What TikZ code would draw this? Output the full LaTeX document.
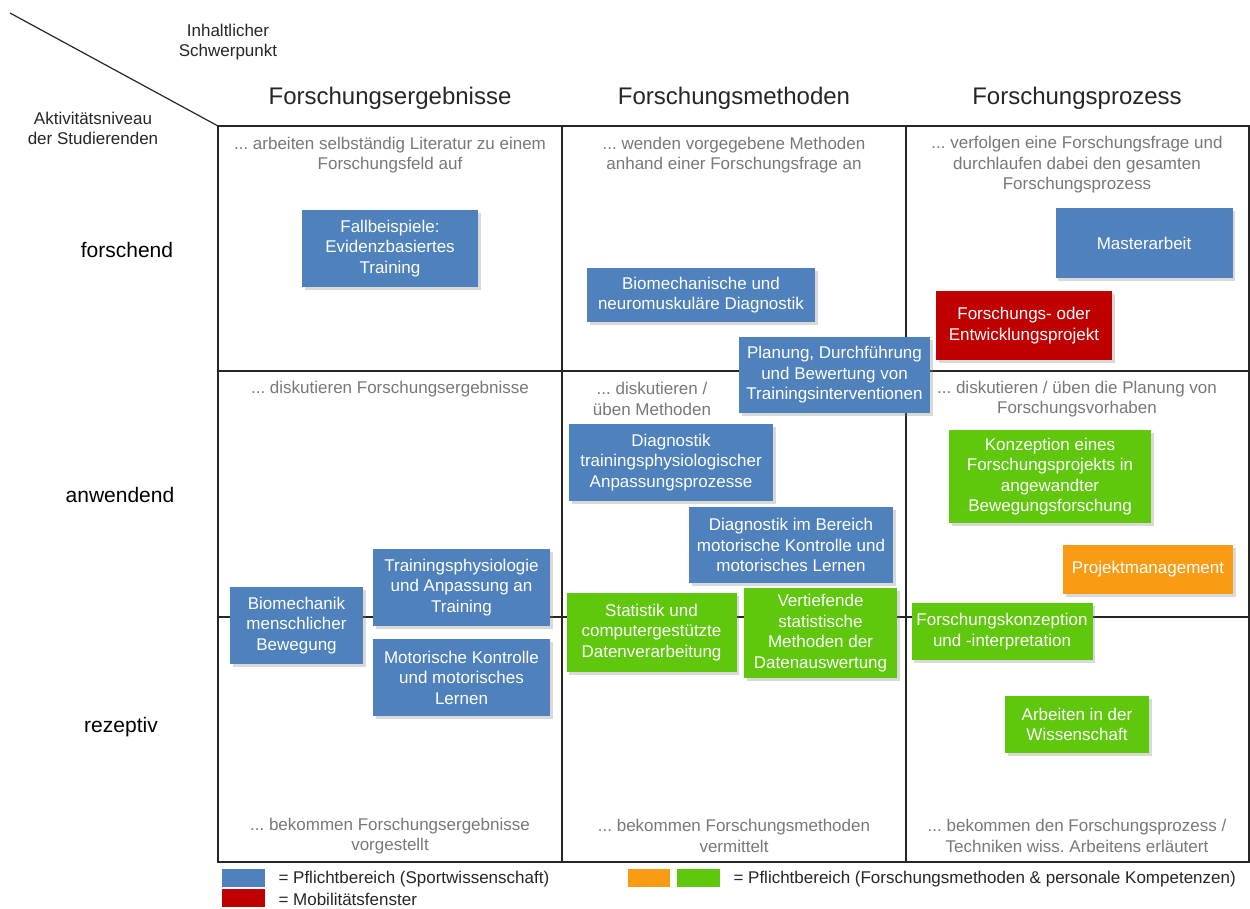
\documentclass[tikz,border=0pt]{standalone}
\usepackage{fontspec}
\setmainfont{Liberation Sans}
\usetikzlibrary{shadows}
\frenchspacing

\definecolor{blau}{RGB}{79,129,189}
\definecolor{rot}{RGB}{192,0,0}
\definecolor{gruen}{RGB}{95,200,12}
\definecolor{orange}{RGB}{250,155,20}
\definecolor{grau}{RGB}{120,120,120}

\begin{document}
\begin{tikzpicture}[x=1pt, y=-1pt,
    box/.style={rectangle, text=white, align=center, inner sep=0pt, font=\fontsize{17}{20.5}\selectfont, drop shadow={shadow xshift=2.5pt, shadow yshift=-2.5pt, opacity=.3}},
    sport/.style={box, fill=blau}, mobil/.style={box, fill=rot},
    methode/.style={box, fill=gruen}, kompetenz/.style={box, fill=orange},
    wh/.style 2 args={minimum width=#1, minimum height=#2},
    stufe/.style={align=center, text=grau, font=\fontsize{17}{20.5}\selectfont},
    kopf/.style={font=\fontsize{24}{28}\selectfont, text=black!85},
    niveau/.style={font=\fontsize{21}{25}\selectfont},
    klein/.style={align=center, font=\fontsize{17}{20}\selectfont, text=black!85},
    raster/.style={line width=1.5pt, black!85}]
    \useasboundingbox (0,0) rectangle (1250,908);
    % Raster
    \coordinate (diag) at (10,13);
    \coordinate (ecke) at (218,126);
    \draw[line width=1.2pt, black!85] (diag) -- (ecke);
    \draw[raster] (ecke) rectangle (1249,862);
    \draw[raster] (562,126) -- (562,862) (906,126) -- (906,862);
    \draw[raster] (218,371) -- (1249,371) (218,617) -- (1249,617);
    % Achsen
    \node[klein] (schwerpunkt) at (228,42) {Inhaltlicher\\Schwerpunkt};
    \node[klein] (aktiv) at (93,128) {Aktivitätsniveau\\der Studierenden};
    \node[kopf] (ergebnisse) at (390,98) {Forschungsergebnisse};
    \node[kopf] (methoden) at (734,98) {Forschungsmethoden};
    \node[kopf] (prozess) at (1077,98) {Forschungsprozess};
    \node[niveau] (forschend) at (127,250) {forschend};
    \node[niveau] (anwendend) at (120,495) {anwendend};
    \node[niveau] (rezeptiv) at (121,727) {rezeptiv};
    % Beschreibungen
    \node[stufe] (f1) at (390,155) {... arbeiten selbständig Literatur zu einem\\Forschungsfeld auf};
    \node[stufe] (f2) at (734,155) {... wenden vorgegebene Methoden\\anhand einer Forschungsfrage an};
    \node[stufe] (f3) at (1077,165) {... verfolgen eine Forschungsfrage und\\durchlaufen dabei den gesamten\\Forschungsprozess};
    \node[stufe] (a1) at (390,389) {... diskutieren Forschungsergebnisse};
    \node[stufe] (a2) at (652,399) {... diskutieren /\\üben Methoden};
    \node[stufe] (a3) at (1077,399) {... diskutieren / üben die Planung von\\Forschungsvorhaben};
    \node[stufe] (r1) at (390,836) {... bekommen Forschungsergebnisse\\vorgestellt};
    \node[stufe] (r2) at (734,836) {... bekommen Forschungsmethoden\\vermittelt};
    \node[stufe] (r3) at (1077,836) {... bekommen den Forschungsprozess /\\Techniken wiss. Arbeitens erläutert};
    % Module
    \node[sport, wh={176}{77}] (fall) at (390,248.5) {Fallbeispiele:\\Evidenzbasiertes\\Training};
    \node[sport, wh={228}{54}] (biodiag) at (701,295) {Biomechanische und\\neuromuskuläre Diagnostik};
    \node[sport, wh={177}{70}] (master) at (1144,243) {Masterarbeit};
    \node[mobil, wh={176}{69}] (projekt) at (1024,325.5) {Forschungs- oder\\Entwicklungsprojekt};
    \node[sport, wh={191}{76}] (planung) at (834.5,375) {Planung, Durchführung\\und Bewertung von\\Trainingsinterventionen};
    \node[sport, wh={204}{77}] (diagtp) at (671,462.5) {Diagnostik\\trainingsphysiologischer\\Anpassungsprozesse};
    \node[sport, wh={204}{76}] (diagmk) at (791,545) {Diagnostik im Bereich\\motorische Kontrolle und\\motorisches Lernen};
    \node[methode, wh={202}{93}] (konzept) at (1050,476.5) {Konzeption eines\\Forschungsprojekts in\\angewandter\\Bewegungsforschung};
    \node[kompetenz, wh={170}{49}] (projman) at (1148,569.5) {Projektmanagement};
    \node[sport, wh={133}{77}] (biomech) at (296.5,625.5) {Biomechanik\\menschlicher\\Bewegung};
    \node[sport, wh={177}{77}] (trainphys) at (461.5,587.5) {Trainingsphysiologie\\und Anpassung an\\Training};
    \node[sport, wh={177}{77}] (motkon) at (461.5,677.5) {Motorische Kontrolle\\und motorisches\\Lernen};
    \node[methode, wh={170}{79}] (statistik) at (651.5,632.5) {Statistik und\\computergestützte\\Datenverarbeitung};
    \node[methode, wh={153}{90}] (vertief) at (820.5,633) {Vertiefende\\statistische\\Methoden der\\Datenauswertung};
    \node[methode, wh={181}{57}] (forkonz) at (1002,631.5) {Forschungskonzeption\\und -interpretation};
    \node[methode, wh={144}{57}] (arbeiten) at (1077,724.5) {Arbeiten in der\\Wissenschaft};
    % Legende
    \node[fill=blau, wh={43}{18}, inner sep=0pt] (lblau) at (243.5,878) {};
    \node[fill=rot, wh={43}{18}, inner sep=0pt] (lrot) at (243.5,898) {};
    \node[fill=orange, wh={42}{18}, inner sep=0pt] (lorange) at (649,878) {};
    \node[fill=gruen, wh={43}{18}, inner sep=0pt] (lgruen) at (698.5,878) {};
    \node[klein, anchor=west] (tblau) at (275,879) {= Pflichtbereich (Sportwissenschaft)};
    \node[klein, anchor=west] (trot) at (275,899) {= Mobilitätsfenster};
    \node[klein, anchor=west] (tgruen) at (730,879) {= Pflichtbereich (Forschungsmethoden \& personale Kompetenzen)};
\end{tikzpicture}
\end{document}
